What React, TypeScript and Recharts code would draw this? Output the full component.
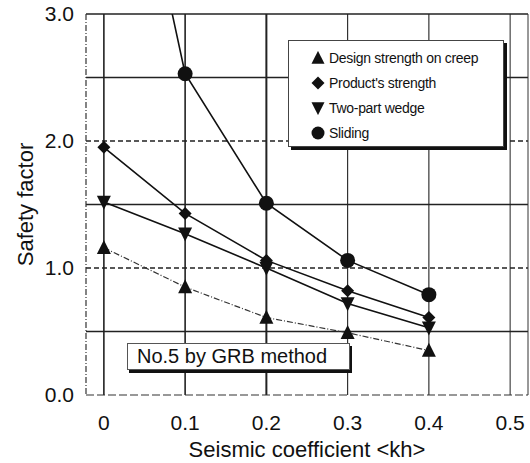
import React from "react";
import {
  LineChart,
  Line,
  XAxis,
  YAxis,
  Legend,
  ReferenceLine,
} from "recharts";

// seismic coefficient kh
const KH = [0, 0.1, 0.2, 0.3, 0.4];
// safety factors
const CREEP = [1.16, 0.85, 0.61, 0.49, 0.35];
const PRODUCT = [1.95, 1.43, 1.06, 0.82, 0.61];
const WEDGE = [1.52, 1.27, 1.0, 0.72, 0.53];
const SLIDING = [5.5, 2.53, 1.51, 1.06, 0.79]; // first point is off the top of the chart

const X_TICKS = [0, 0.1, 0.2, 0.3, 0.4, 0.5];
const Y_TICKS = [0, 1, 2, 3];
const X_DOMAIN: [number, number] = [-0.022, 0.522];
const Y_DOMAIN: [number, number] = [0, 3];

// grid lines (the scan mixes solid and dashed ones)
const H_SOLID = [0.5, 1.5, 2.5, 3];
const H_DASHED = [1, 2];
const V_LINES = [0, 0.1, 0.2, 0.3, 0.4, 0.5];
const V_WIDTHS = [1.6, 1.6, 2, 1.1, 1.1, 1];

const LEGEND_ORDER = ["creep", "product", "wedge", "sliding"];

const data = KH.map((kh, i) => ({
  kh,
  creep: CREEP[i],
  product: PRODUCT[i],
  wedge: WEDGE[i],
  sliding: SLIDING[i],
}));

const FONT = '"Liberation Sans", Arial, Helvetica, sans-serif';

type Kind = "up" | "down" | "diamond" | "circle";

const shapeOf: Record<string, Kind> = {
  creep: "up",
  product: "diamond",
  wedge: "down",
  sliding: "circle",
};

const Shape = ({ kind, cx, cy, s }: { kind: Kind; cx: number; cy: number; s: number }) => {
  if (kind === "circle") return <circle cx={cx} cy={cy} r={s / 2} fill="#111" />;
  let pts = "";
  if (kind === "up")
    pts = `${cx},${cy - s * 0.55} ${cx + s / 2},${cy + s * 0.45} ${cx - s / 2},${cy + s * 0.45}`;
  if (kind === "down")
    pts = `${cx},${cy + s * 0.55} ${cx + s / 2},${cy - s * 0.45} ${cx - s / 2},${cy - s * 0.45}`;
  if (kind === "diamond")
    pts = `${cx},${cy - s / 2} ${cx + s / 2},${cy} ${cx},${cy + s / 2} ${cx - s / 2},${cy}`;
  return <polygon points={pts} fill="#111" />;
};

const dotFor = (key: string, size: number) => (props: any) => (
  <Shape key={`${key}-${props.index}`} kind={shapeOf[key]} cx={props.cx} cy={props.cy} s={size} />
);

const LegendBox = ({ payload }: any) => {
  const items = LEGEND_ORDER.map((k) => (payload || []).find((p: any) => p.dataKey === k)).filter(Boolean);
  return (
    <div
      style={{
        width: 216,
        height: 107,
        boxSizing: "border-box",
        background: "#fff",
        border: "1px solid #444",
        boxShadow: "3px 3px 0 #111",
        paddingTop: 4,
        fontFamily: FONT,
        fontSize: 14,
        letterSpacing: -0.3,
        color: "#111",
      }}
    >
      {items.map((p: any) => (
        <div key={p.dataKey} style={{ height: 25, display: "flex", alignItems: "center" }}>
          <svg width={14} height={14} style={{ marginLeft: 22, marginRight: 4 }}>
            <Shape kind={shapeOf[p.dataKey]} cx={7} cy={7} s={13} />
          </svg>
          <span>{p.value}</span>
        </div>
      ))}
    </div>
  );
};

export default function App() {
  return (
    <div style={{ position: "absolute", left: 0, top: 0, width: 530, height: 463, background: "#fff" }}>
      <LineChart
        width={530}
        height={463}
        data={data}
        margin={{ top: 14, right: 2, left: 0, bottom: 0 }}
      >
        <XAxis
          type="number"
          dataKey="kh"
          domain={X_DOMAIN}
          ticks={X_TICKS}
          allowDataOverflow
          height={68}
          tickLine={false}
          tickSize={18}
          tickMargin={2}
          axisLine={{ stroke: "#333", strokeWidth: 1.2, strokeDasharray: "8 3" }}
          tickFormatter={(v: number) => (v === 0 ? "0" : v.toFixed(1))}
          tick={{ fill: "#111", fontSize: 21, fontFamily: FONT }}
          label={{
            value: "Seismic coefficient <kh>",
            position: "insideBottom",
            offset: 6,
            fill: "#111",
            fontSize: 22,
            fontFamily: FONT,
          }}
        />
        <YAxis
          type="number"
          domain={Y_DOMAIN}
          ticks={Y_TICKS}
          allowDataOverflow
          width={86}
          tickLine={false}
          tickSize={10}
          tickMargin={2}
          axisLine={{ stroke: "#333", strokeWidth: 1.2, strokeDasharray: "6 2 1 2" }}
          tickFormatter={(v: number) => v.toFixed(1)}
          tick={{ fill: "#111", fontSize: 21, fontFamily: FONT }}
          label={{
            content: (props: any) => {
              const vb = props.viewBox || { x: 0, y: 14, width: 86, height: 381 };
              const cx = vb.x + 25;
              const cy = vb.y + vb.height / 2;
              return (
                <text
                  x={cx}
                  y={cy}
                  transform={`rotate(-90, ${cx}, ${cy})`}
                  textAnchor="middle"
                  dominantBaseline="central"
                  fill="#111"
                  fontSize={22}
                  fontFamily={FONT}
                >
                  Safety factor
                </text>
              );
            },
          }}
        />
        {H_SOLID.map((v) => (
          <ReferenceLine key={`h${v}`} y={v} stroke="#222" strokeWidth={1.5} />
        ))}
        {H_DASHED.map((v) => (
          <ReferenceLine key={`hd${v}`} y={v} stroke="#222" strokeWidth={1.5} strokeDasharray="5 3" />
        ))}
        {V_LINES.map((v, i) => (
          <ReferenceLine key={`v${v}`} x={v} stroke="#222" strokeWidth={V_WIDTHS[i]} />
        ))}
        <ReferenceLine x={X_DOMAIN[1]} stroke="#333" strokeWidth={1} />
        <Legend
          layout="vertical"
          align="center"
          verticalAlign="middle"
          wrapperStyle={{ left: 288, top: 40, width: 216 }}
          content={<LegendBox />}
        />
        <Line
          dataKey="creep"
          name="Design strength on creep"
          stroke="#333"
          strokeWidth={1.2}
          strokeDasharray="6 2 1 2"
          dot={dotFor("creep", 14)}
          activeDot={false}
          isAnimationActive={false}
        />
        <Line
          dataKey="product"
          name="Product's strength"
          stroke="#111"
          strokeWidth={1.6}
          dot={dotFor("product", 13)}
          activeDot={false}
          isAnimationActive={false}
        />
        <Line
          dataKey="wedge"
          name="Two-part wedge"
          stroke="#111"
          strokeWidth={1.6}
          dot={dotFor("wedge", 14)}
          activeDot={false}
          isAnimationActive={false}
        />
        <Line
          dataKey="sliding"
          name="Sliding"
          stroke="#111"
          strokeWidth={1.6}
          dot={dotFor("sliding", 15)}
          activeDot={false}
          isAnimationActive={false}
        />
      </LineChart>
      <div
        style={{
          position: "absolute",
          left: 127,
          top: 343,
          width: 223,
          height: 27,
          boxSizing: "border-box",
          background: "#fff",
          border: "1px solid #555",
          boxShadow: "2px 3px 0 #111",
          paddingLeft: 9,
          lineHeight: "25px",
          fontFamily: FONT,
          fontSize: 20,
          color: "#111",
          whiteSpace: "nowrap",
        }}
      >
        No.5 by GRB method
      </div>
    </div>
  );
}
